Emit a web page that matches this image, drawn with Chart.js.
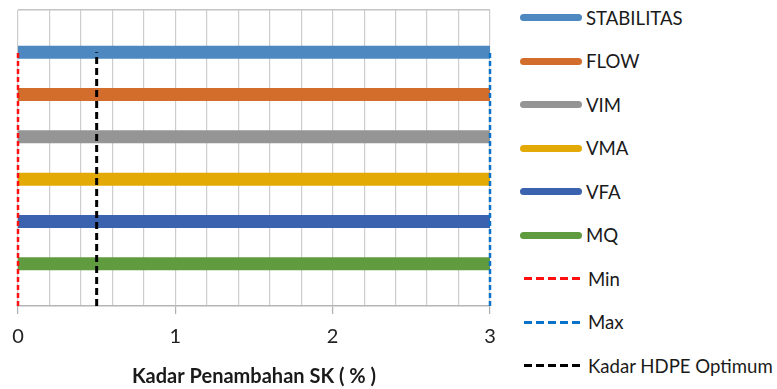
<!DOCTYPE html>
<html>
<head>
<meta charset="utf-8">
<script src="https://cdn.jsdelivr.net/npm/chart.js@4.4.1/dist/chart.umd.min.js"></script>
<style>
  body { margin: 0; background: #fff; }
  .wrap { position: relative; width: 777px; height: 389px; overflow: hidden; }
  .plot { position: absolute; left: 0; top: 0; width: 510px; height: 389px; }
  #legend-container { position: absolute; left: 520px; top: -4px; }
  #legend-container ul { list-style: none; margin: 0; padding: 0; }
  #legend-container li {
    height: 43.5px; display: flex; align-items: center;
    font-family: Lato, "Open Sans", sans-serif; font-size: 18.6px; color: #1a1a1a;
    white-space: nowrap;
  }
  #legend-container li span.mark { display: inline-block; width: 62px; margin-right: 4px; }
</style>
</head>
<body>
<div class="wrap">
  <div class="plot"><canvas id="myChart"></canvas></div>
  <div id="legend-container"></div>
</div>
<script>
// horizontal criteria bands
const seriesNames = ['STABILITAS', 'FLOW', 'VIM', 'VMA', 'VFA', 'MQ'];
const seriesLevels = [6, 5, 4, 3, 2, 1];
const seriesColors = ['#4d88c0', '#d36d2c', '#959595', '#e3aa06', '#3a62ae', '#609b3f'];
const xRange = [0, 3];

// vertical limit lines
const limitNames = ['Min', 'Max', 'Kadar HDPE Optimum'];
const limitValues = [0, 3, 0.5];
const limitSpan = [0, 6];
const limitColors = ['#ff1010', '#0a72c8', '#000000'];
const limitDash = [[5, 3], [5, 3], [7, 4]];

const xTicks = [0, 1, 2, 3];
const xTitle = 'Kadar Penambahan SK ( % )';

const datasets = [];
seriesNames.forEach((name, i) => {
  datasets.push({
    label: name,
    data: xRange.map(x => ({ x: x, y: seriesLevels[i] })),
    borderColor: seriesColors[i],
    borderWidth: 13,
    pointRadius: 0,
    order: 1,
    isBand: true
  });
});
limitNames.forEach((name, i) => {
  datasets.push({
    label: name,
    data: limitSpan.map(y => ({ x: limitValues[i], y: y })),
    borderColor: limitColors[i],
    borderWidth: i === 2 ? 3 : 2.5,
    borderDash: limitDash[i],
    pointRadius: 0,
    order: 0,
    clip: false
  });
});

const ctx = document.getElementById('myChart').getContext('2d');
const chart = new Chart(ctx, {
  type: 'line',
  data: { datasets: datasets },
  options: {
    responsive: true,
    maintainAspectRatio: false,
    animation: false,
    layout: { padding: { left: 18, right: 20, top: 10, bottom: 0 } },
    plugins: { legend: { display: false }, tooltip: { enabled: false } },
    scales: {
      x: {
        type: 'linear',
        min: xRange[0],
        max: xRange[1],
        ticks: {
          stepSize: 0.2,
          autoSkip: false,
          maxRotation: 0,
          padding: 11,
          color: '#222',
          font: { family: 'Lato', size: 20 },
          callback: v => xTicks.includes(Math.round(v * 1000) / 1000) ? String(Math.round(v)) : ''
        },
        grid: {
          color: '#cdcdcd',
          lineWidth: 1.2,
          tickLength: 8,
          tickColor: c => xTicks.includes(Math.round(c.tick.value * 1000) / 1000) ? '#b0b0b0' : 'rgba(0,0,0,0)'
        },
        border: { color: '#b5b5b5', width: 1.5 },
        title: {
          display: true,
          text: xTitle,
          color: '#1a1a1a',
          font: { family: 'Lato', size: 20, weight: 'bold' },
          padding: { top: 5, bottom: 0 }
        }
      },
      y: {
        type: 'linear',
        min: 0,
        max: 7,
        ticks: { display: false, stepSize: 1 },
        grid: {
          drawTicks: false,
          color: c => c.tick.value === 7 ? '#c4c4c4' : 'rgba(0,0,0,0)',
          lineWidth: 1.5
        },
        border: { display: false }
      }
    }
  }
});

// html legend built from the chart datasets
const ul = document.createElement('ul');
chart.data.datasets.forEach(ds => {
  const li = document.createElement('li');
  const mark = document.createElement('span');
  mark.className = 'mark';
  if (ds.isBand) {
    mark.style.height = '7px';
    mark.style.borderRadius = '4px';
    mark.style.background = ds.borderColor;
  } else {
    mark.style.height = '3px';
    mark.style.margin = '0 8px 0 4px';
    mark.style.width = '56px';
    mark.style.background = `repeating-linear-gradient(to right, ${ds.borderColor} 0 8px, transparent 8px 12px)`;
  }
  li.appendChild(mark);
  li.appendChild(document.createTextNode(ds.label));
  ul.appendChild(li);
});
document.getElementById('legend-container').appendChild(ul);
</script>
</body>
</html>
